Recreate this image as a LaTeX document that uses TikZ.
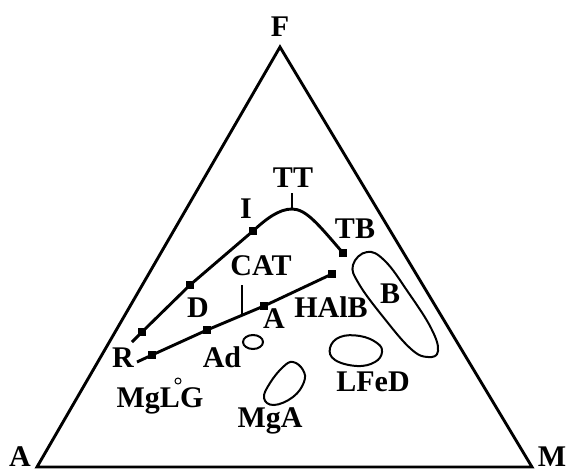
\documentclass[tikz,border=0pt]{standalone}
\usepackage{fontspec}
\setmainfont{Liberation Serif}
\usetikzlibrary{positioning}
\tikzset{
  lbl/.style={font=\fontsize{30}{31}\selectfont\bfseries,inner sep=0pt,anchor=base},
  sq/.style={rectangle,fill=black,minimum size=8pt,inner sep=0pt},
  trend/.style={line width=2.9pt,line join=round},
  field/.style={line width=2pt},
  tick/.style={line width=1.2pt},
}

\begin{document}
\begin{tikzpicture}[x=1pt,y=-1pt]
  \useasboundingbox (0,0) rectangle (570,471);
  % ternary frame
  \coordinate (cA) at (37,467);
  \coordinate (cM) at (532,467);
  \coordinate (cF) at (280,47);
  \draw[line width=2.9pt] (cA) -- (cF) -- (cM) -- cycle;
  \node[lbl] (labF) at (280,36) {F};
  \node[lbl] (labA) at (20,466) {A};
  \node[lbl] (labM) at (552,466) {M};
  % upper trend
  \coordinate (u0) at (132,342);
  \node[sq] (u1) at (142,332) {};
  \node[sq] (u2) at (190,285) {};
  \node[sq] (u3) at (253,231) {};
  \coordinate (tt) at (292,209);
  \node[sq] (u4) at (343,253) {};
  \draw[trend] (u0) -- (u1.center) -- (u2.center) -- (u3.center)
    .. controls (266,219) and (279,209) .. (tt)
    .. controls (306,209) and (318,224) .. (u4.center);
  \coordinate (ttk) at (292,193);
  \draw[tick] (tt) -- (ttk);
  % lower trend
  \coordinate (l0) at (137,362);
  \node[sq] (l1) at (152,355) {};
  \node[sq] (l2) at (207,330) {};
  \node[sq] (l3) at (264,306) {};
  \node[sq] (l4) at (332,274) {};
  \draw[trend] (l0) -- (l1.center) -- (l2.center) -- (l3.center) -- (l4.center);
  \coordinate (cat0) at (242,285);
  \coordinate (cat1) at (242,315);
  \draw[tick] (cat0) -- (cat1);
  % fields
  \draw[field] (253,342) ellipse [x radius=10pt,y radius=7pt];
  \draw[line width=1pt] (178,381) circle [radius=3pt];
  \draw[field] plot[smooth cycle,tension=0.7] coordinates
    {(367,252) (385,261) (408,292) (431,328) (438,351) (428,357) (411,349) (384,318) (359,284) (353,265)};
  \draw[field] plot[smooth cycle,tension=0.7] coordinates
    {(340,337) (360,336) (377,343) (382,352) (375,362) (357,366) (335,360) (330,348)};
  \draw[field] plot[smooth cycle,tension=0.7] coordinates
    {(293,362) (303,370) (304,382) (293,397) (274,405) (264,398) (270,383) (283,367)};
  % labels
  \node[lbl] (labTT) at (293,187) {TT};
  \node[lbl] (labI) at (246,218) {I};
  \node[lbl] (labTB) at (355,238) {TB};
  \node[lbl] (labCAT) at (261,275) {CAT};
  \node[lbl] (labD) at (198,317) {D};
  \node[lbl] (labAp) at (274,328) {A};
  \node[lbl] (labHAlB) at (331,317) {HAlB};
  \node[lbl] (labB) at (390,303) {B};
  \node[lbl] (labR) at (123,367) {R};
  \node[lbl] (labAd) at (222,367) {Ad};
  \node[lbl] (labMgLG) at (160,407) {MgLG};
  \node[lbl] (labMgA) at (270,427) {MgA};
  \node[lbl] (labLFeD) at (373,391) {LFeD};
\end{tikzpicture}
\end{document}
